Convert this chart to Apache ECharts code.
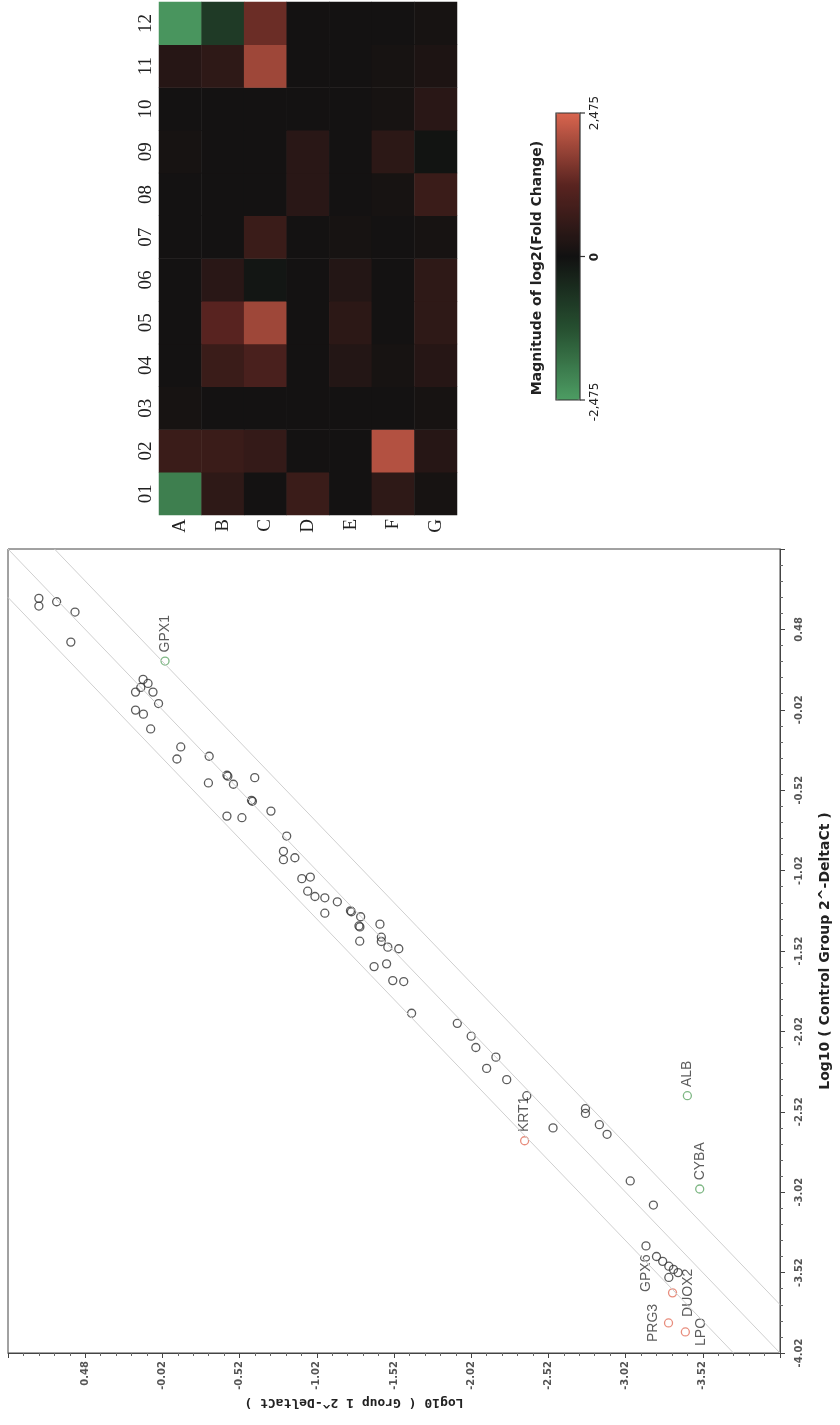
<!DOCTYPE html>
<html><head><meta charset="utf-8">
<script src="https://cdn.jsdelivr.net/npm/echarts@6/dist/echarts.min.js"></script>
<style>html,body{margin:0;padding:0;background:#fff}#c{width:840px;height:1425px}</style>
</head><body><div id="c"></div>
<script>
// ---------- heatmap data (plate layout) ----------
const plateCols = ['A','B','C','D','E','F','G'];
const plateRows = ['01','02','03','04','05','06','07','08','09','10','11','12'];
// log2 fold change per row (01..12), columns A..G
const row01 = [-2.0, 0.5, 0.05, 0.7, 0.05, 0.5, 0.1];
const row02 = [0.7, 0.7, 0.6, 0.05, 0.05, 2.1, 0.35];
const row03 = [0.1, 0.05, 0.05, 0.05, 0.05, 0.05, 0.1];
const row04 = [0.05, 0.7, 0.95, 0.05, 0.3, 0.1, 0.35];
const row05 = [0.05, 1.2, 1.9, 0.05, 0.45, 0.05, 0.5];
const row06 = [0.05, 0.4, -0.1, 0.05, 0.3, 0.05, 0.5];
const row07 = [0.05, 0.05, 0.7, 0.05, 0.1, 0.05, 0.1];
const row08 = [0.05, 0.05, 0.05, 0.4, 0.05, 0.1, 0.7];
const row09 = [0.1, 0.05, 0.05, 0.4, 0.05, 0.45, -0.05];
const row10 = [0.05, 0.05, 0.05, 0.05, 0.05, 0.1, 0.4];
const row11 = [0.35, 0.5, 1.9, 0.05, 0.05, 0.1, 0.2];
const row12 = [-2.35, -0.82, 1.4, 0.05, 0.05, 0.05, 0.1];
const plateValues = [row01,row02,row03,row04,row05,row06,row07,row08,row09,row10,row11,row12];
const scaleLimit = 2.475;

// ---------- scatter data ----------
// unlabeled genes: Log10 Group 1 and Log10 Control
const group1Log = [0.780,0.780,0.665,0.546,0.573,0.105,0.073,0.120,0.154,0.041,0.005,0.154,0.103,0.056,
 -0.139,-0.114,-0.323,-0.318,-0.438,-0.444,-0.480,-0.618,-0.597,-0.603,-0.438,-0.535,-0.723,-0.825,-0.804,-0.804,-0.878,
 -0.923,-0.978,-0.961,-1.008,-1.072,-1.153,-1.072,-1.238,-1.244,-1.304,-1.293,-1.299,-1.429,-1.298,-1.438,-1.438,-1.480,-1.551,
 -1.391,-1.472,-1.512,-1.583,-1.634,
 -1.93,-2.02,-2.05,-2.18,-2.12,-2.25,-2.38,-2.76,-2.76,-2.85,-2.90,-2.55,-3.05,-3.20,
 -3.22,-3.26,-3.30,-3.33,-3.36,-3.30];
const controlLog = [0.673,0.625,0.652,0.588,0.401,0.169,0.144,0.119,0.090,0.090,0.019,-0.022,-0.047,-0.139,
 -0.251,-0.326,-0.309,-0.475,-0.427,-0.433,-0.483,-0.442,-0.583,-0.589,-0.681,-0.691,-0.650,-0.805,-0.900,-0.952,-0.940,
 -1.070,-1.060,-1.148,-1.181,-1.189,-1.214,-1.285,-1.270,-1.276,-1.307,-1.364,-1.370,-1.353,-1.459,-1.434,-1.461,-1.496,-1.506,
 -1.617,-1.600,-1.704,-1.710,-1.907,
 -1.97,-2.05,-2.12,-2.18,-2.25,-2.32,-2.42,-2.50,-2.53,-2.60,-2.66,-2.62,-2.95,-3.10,
 -3.42,-3.45,-3.48,-3.50,-3.52,-3.55];
// labelled genes
const geneNames   = ['GPX1','KRT1','ALB','CYBA','GPX6','DUOX2','PRG3','LPO'];
const geneGroup1  = [-0.037,-2.366,-3.42,-3.50,-3.152,-3.324,-3.298,-3.407];
const geneControl = [0.283,-2.70,-2.42,-3.00,-3.354,-3.646,-3.833,-3.889];
const geneStatus  = ['down','up','down','down','none','up','up','up'];
const geneLabelSide = ['top','top','top','top','bottom','right','left','right'];

// axis ticks
const axisMin = -4.02, axisMax = 0.98, axisStep = 0.5;
const foldLog = Math.log10(2);

const colorOf = {up:'#e2705c', down:'#5ea565', none:'#333333'};
// how a label sits when turned a quarter turn
const labelPlacement = {
  top:    {align: 'left',   verticalAlign: 'middle'},
  bottom: {align: 'right',  verticalAlign: 'middle'},
  left:   {align: 'center', verticalAlign: 'bottom'},
  right:  {align: 'center', verticalAlign: 'top'}
};

const heatData = [];
plateValues.forEach((row, r) => row.forEach((v, c) => heatData.push([c, r, v])));

const plainPts = group1Log.map((g, i) => [g, controlLog[i]]);
const genePts = geneNames.map((n, i) => ({
  value: [geneGroup1[i], geneControl[i]], name: n,
  itemStyle: {borderColor: colorOf[geneStatus[i]]},
  label: Object.assign({position: geneLabelSide[i]}, labelPlacement[geneLabelSide[i]])
}));

function diag(off) {
  const lo = Math.max(axisMin, axisMin - off), hi = Math.min(axisMax, axisMax - off);
  return [[lo + off, lo], [hi + off, hi]];
}

const chart = echarts.init(document.getElementById('c'), null, {renderer: 'canvas'});
chart.setOption({
  animation: false,
  backgroundColor: '#ffffff',
  grid: [
    {left: 159, top: 2, width: 298, height: 513},
    {left: 8, top: 549, width: 783, height: 804, show: true, borderColor: '#444', borderWidth: 1}
  ],
  xAxis: [
    {gridIndex: 0, type: 'category', data: plateCols, position: 'bottom',
     axisLine: {show: false}, axisTick: {show: false},
     axisLabel: {rotate: 90, margin: 4, fontFamily: 'Liberation Serif', fontSize: 19, color: '#222'}},
    {gridIndex: 1, type: 'value', min: axisMin, max: axisMax, interval: axisStep, inverse: true, position: 'bottom',
     axisLine: {show: true, onZero: false, lineStyle: {color: '#444'}},
     axisTick: {show: true, length: 5, lineStyle: {color: '#444'}},
     minorTick: {show: true, splitNumber: 5, length: 3, lineStyle: {color: '#666'}},
     splitLine: {show: false}, minorSplitLine: {show: false},
     axisLabel: {rotate: 90, margin: 8, fontSize: 10, color: '#555', fontFamily: 'DejaVu Sans', fontWeight: 'bold',
       showMinLabel: false, showMaxLabel: false, formatter: v => v.toFixed(2)}}
  ],
  yAxis: [
    {gridIndex: 0, type: 'category', data: plateRows,
     axisLine: {show: false}, axisTick: {show: false},
     axisLabel: {rotate: 90, margin: 3, fontFamily: 'Liberation Serif', fontSize: 19, color: '#222'}},
    {gridIndex: 1, type: 'value', min: axisMin, max: axisMax, interval: axisStep, position: 'right',
     axisLine: {show: true, onZero: false, lineStyle: {color: '#444'}},
     axisTick: {show: true, length: 5, lineStyle: {color: '#444'}},
     minorTick: {show: true, splitNumber: 5, length: 3, lineStyle: {color: '#666'}},
     splitLine: {show: false}, minorSplitLine: {show: false},
     axisLabel: {rotate: 90, margin: 14, fontSize: 10, color: '#555', fontFamily: 'DejaVu Sans', fontWeight: 'bold',
       showMaxLabel: false, formatter: v => v.toFixed(2)},
     name: 'Log10 ( Control Group 2^-DeltaCt )', nameLocation: 'middle', nameRotate: 90, nameGap: 38,
     nameTextStyle: {fontSize: 14, color: '#222', fontFamily: 'DejaVu Sans', fontWeight: 'bold'}}
  ],
  visualMap: {
    type: 'continuous', seriesIndex: 0, min: -scaleLimit, max: scaleLimit,
    orient: 'vertical', left: 556, top: 113, itemWidth: 24, itemHeight: 287, padding: 0,
    calculable: false, hoverLink: false, text: null,
    inRange: {color: ['#4d9d63', '#264f30', '#111111', '#5a2420', '#d9654f']}
  },
  graphic: [
    {type: 'rect', shape: {x: 556, y: 113, width: 24, height: 287}, style: {fill: 'none', stroke: '#333', lineWidth: 1.2}, z: 100},
    {type: 'line', shape: {x1: 580, y1: 113, x2: 585, y2: 113}, style: {stroke: '#333', lineWidth: 1.2}, z: 100},
    {type: 'line', shape: {x1: 580, y1: 256.5, x2: 585, y2: 256.5}, style: {stroke: '#333', lineWidth: 1.2}, z: 100},
    {type: 'line', shape: {x1: 580, y1: 400, x2: 585, y2: 400}, style: {stroke: '#333', lineWidth: 1.2}, z: 100},
    {type: 'text', x: 595, y: 113, rotation: Math.PI / 2,
     style: {text: String(scaleLimit).replace('.', ','), fontSize: 12, fill: '#222', textAlign: 'center', textVerticalAlign: 'middle', fontFamily: 'DejaVu Sans'}},
    {type: 'text', x: 595, y: 257, rotation: Math.PI / 2,
     style: {text: '0', fontSize: 12, fill: '#222', fontWeight: 'bold', textAlign: 'center', textVerticalAlign: 'middle', fontFamily: 'DejaVu Sans'}},
    {type: 'text', x: 595, y: 402, rotation: Math.PI / 2,
     style: {text: '-' + String(scaleLimit).replace('.', ','), fontSize: 12, fill: '#222', textAlign: 'center', textVerticalAlign: 'middle', fontFamily: 'DejaVu Sans'}},
    {type: 'text', x: 537, y: 268, rotation: Math.PI / 2,
     style: {text: 'Magnitude of log2(Fold Change)', fontSize: 14, fill: '#222', fontWeight: 'bold', textAlign: 'center', textVerticalAlign: 'middle', fontFamily: 'DejaVu Sans'}},
    {type: 'text', x: 354, y: 1402, rotation: Math.PI,
     style: {text: 'Log10 ( Group 1 2^-DeltaCt )', fontSize: 13, fill: '#222', fontWeight: 'bold', textAlign: 'center', textVerticalAlign: 'middle', fontFamily: 'DejaVu Sans Mono'}}
  ],
  series: [
    {type: 'heatmap', xAxisIndex: 0, yAxisIndex: 0, data: heatData, itemStyle: {borderWidth: 0}, emphasis: {disabled: true}},
    {type: 'line', xAxisIndex: 1, yAxisIndex: 1, data: diag(0), symbol: 'none', lineStyle: {color: '#cfcfcf', width: 1}, silent: true},
    {type: 'line', xAxisIndex: 1, yAxisIndex: 1, data: diag(foldLog), symbol: 'none', lineStyle: {color: '#cfcfcf', width: 1}, silent: true},
    {type: 'line', xAxisIndex: 1, yAxisIndex: 1, data: diag(-foldLog), symbol: 'none', lineStyle: {color: '#cfcfcf', width: 1}, silent: true},
    {type: 'scatter', xAxisIndex: 1, yAxisIndex: 1, data: plainPts, symbol: 'circle', symbolSize: 8,
     itemStyle: {color: 'rgba(0,0,0,0)', borderColor: '#333', borderWidth: 1.3}},
    {type: 'scatter', xAxisIndex: 1, yAxisIndex: 1, data: genePts, symbol: 'circle', symbolSize: 8,
     itemStyle: {color: 'rgba(0,0,0,0)', borderWidth: 1.3},
     label: {show: true, formatter: '{b}', distance: 4, rotate: 90,
       fontSize: 14, color: '#333', fontFamily: 'Liberation Sans'}}
  ]
});
</script></body></html>
